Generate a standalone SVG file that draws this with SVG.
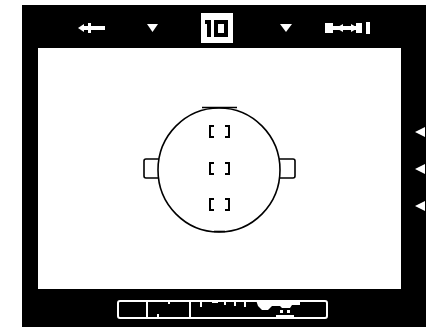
<svg xmlns="http://www.w3.org/2000/svg" width="426" height="332" viewBox="0 0 426 332">
<style>
.ln{fill:none;stroke:#000;stroke-width:1.6}
.br{fill:none;stroke:#000;stroke-width:2}
.wf{fill:#fff}
.bf{fill:#000}
.ws{fill:none;stroke:#fff;stroke-width:2}
</style>
<rect x="0" y="0" width="426" height="332" fill="#fff"/>
<g id="frame">
<rect x="22" y="5" width="404" height="322" class="bf"/>
<rect x="38" y="48" width="363" height="241" class="wf"/>
</g>
<g id="top-icons">
<polygon points="78,28 84,24 84,32" class="wf"/>
<rect x="83" y="26" width="22" height="4" class="wf"/>
<rect x="88" y="23" width="3" height="10" class="wf"/>
<polygon points="147,24 158,24 152.5,32" class="wf"/>
<rect x="201" y="13" width="32" height="30" class="wf"/>
<rect x="207" y="20" width="4" height="17" class="bf"/>
<rect x="205" y="20" width="5" height="4" class="bf"/>
<rect x="214" y="20" width="14" height="17" class="bf"/>
<rect x="218" y="24" width="6" height="9" class="wf"/>
<polygon points="280,24 292,24 286,32" class="wf"/>
<rect x="325" y="23" width="8" height="10" class="wf"/>
<rect x="332" y="26" width="30" height="4" class="wf"/>
<polygon points="336,28 343,24 343,32" class="wf"/>
<polygon points="351,24 358,28 351,32" class="wf"/>
<rect x="356" y="23" width="6" height="10" class="wf"/>
<rect x="366" y="22" width="4" height="12" class="wf"/>
</g>
<g id="circle">
<ellipse cx="219" cy="170" rx="61" ry="62" class="ln"/>
<line x1="202" y1="107.5" x2="237" y2="107.5" class="ln"/>
<line x1="214" y1="231.5" x2="225" y2="231.5" class="ln"/>
</g>
<g id="left-bracket">
<path class="ln" d="M159,159 L146,159 Q144,159 144,161 L144,176 Q144,178 146,178 L159,178"/>
</g>
<g id="right-bracket">
<path class="ln" d="M279,159 L293,159 Q295,159 295,161 L295,176 Q295,178 293,178 L279,178"/>
</g>
<g id="af-top">
<path class="br" d="M214,126 L210,126 L210,137 L214,137 M225,126 L229,126 L229,137 L225,137"/>
</g>
<g id="af-middle">
<path class="br" d="M214,163 L210,163 L210,174 L214,174 M225,163 L229,163 L229,174 L225,174"/>
</g>
<g id="af-bottom">
<path class="br" d="M214,199 L210,199 L210,210 L214,210 M225,199 L229,199 L229,210 L225,210"/>
</g>
<g id="side-marks">
<polygon points="415,132 425,127 425,137" class="wf"/>
<polygon points="415,169 425,164 425,174" class="wf"/>
<polygon points="415,206 425,201 425,211" class="wf"/>
</g>
<g id="info-bar">
<rect x="118" y="301" width="209" height="17" rx="2" class="ws"/>
<rect x="146" y="301" width="2" height="17" class="wf"/>
<rect x="189" y="301" width="2" height="17" class="wf"/>
<rect x="168" y="300" width="2" height="4" class="wf"/>
<rect x="157" y="314" width="2" height="4" class="wf"/>
<rect x="200" y="301" width="2" height="6" class="wf"/>
<rect x="212" y="300" width="6" height="3" class="wf"/>
<rect x="224" y="300" width="2" height="5" class="wf"/>
<rect x="234" y="300" width="2" height="6" class="wf"/>
<rect x="244" y="300" width="2" height="7" class="wf"/>
<path class="wf" d="M256,300 L300,300 L300,305 L292,305 L290,308 L282,308 L280,306 L272,306 L268,310 L262,310 L258,306 Z"/>
<rect x="280" y="310" width="3" height="3" class="wf"/>
<rect x="287" y="310" width="3" height="3" class="wf"/>
<rect x="276" y="315" width="18" height="3" class="wf"/>
</g>
</svg>
